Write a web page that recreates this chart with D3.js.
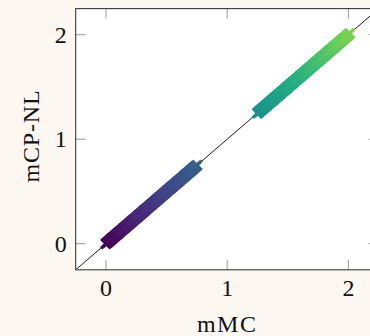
<!DOCTYPE html>
<html><head><meta charset="utf-8">
<script src="https://cdn.jsdelivr.net/npm/d3@7"></script>
<style>
html,body{margin:0;padding:0;background:#fdf7f1;}
svg{display:block;}
text{font-family:"Liberation Serif","Times New Roman",serif;fill:#111;}
</style></head>
<body>
<svg id="c" width="370" height="336"></svg>
<script>
// Data
const ticks = [0, 1, 2];
const tickLabels = ["0", "1", "2"];
const xLabel = "mMC";
const yLabel = "mCP-NL";
const domainMin = -0.25, domainMax = 2.25;
// cluster 1 (low values)
const mmcLow = [0.00,0.01,0.02,0.03,0.04,0.05,0.06,0.07,0.08,0.09,0.10,0.11,0.12,0.13,0.14,0.15,0.16,0.17,0.18,0.19,0.20,0.21,0.22,0.23,0.24,0.25,0.26,0.27,0.28,0.29,0.30,0.31,0.32,0.33,0.34,0.35,0.36,0.37,0.38,0.39,0.40,0.41,0.42,0.43,0.44,0.45,0.46,0.47,0.48,0.49,0.50,0.51,0.52,0.53,0.54,0.55,0.56,0.57,0.58,0.59,0.60,0.61,0.62,0.63,0.64,0.65,0.66,0.67,0.68,0.69,0.70,0.71,0.72,0.73,0.74,0.75];
const cpnlLow = [0.00,0.01,0.02,0.03,0.04,0.05,0.06,0.07,0.08,0.09,0.10,0.11,0.12,0.13,0.14,0.15,0.16,0.17,0.18,0.19,0.20,0.21,0.22,0.23,0.24,0.25,0.26,0.27,0.28,0.29,0.30,0.31,0.32,0.33,0.34,0.35,0.36,0.37,0.38,0.39,0.40,0.41,0.42,0.43,0.44,0.45,0.46,0.47,0.48,0.49,0.50,0.51,0.52,0.53,0.54,0.55,0.56,0.57,0.58,0.59,0.60,0.61,0.62,0.63,0.64,0.65,0.66,0.67,0.68,0.69,0.70,0.71,0.72,0.73,0.74,0.75];
// cluster 2 (high values)
const mmcHigh = [1.25,1.26,1.27,1.28,1.29,1.30,1.31,1.32,1.33,1.34,1.35,1.36,1.37,1.38,1.39,1.40,1.41,1.42,1.43,1.44,1.45,1.46,1.47,1.48,1.49,1.50,1.51,1.52,1.53,1.54,1.55,1.56,1.57,1.58,1.59,1.60,1.61,1.62,1.63,1.64,1.65,1.66,1.67,1.68,1.69,1.70,1.71,1.72,1.73,1.74,1.75,1.76,1.77,1.78,1.79,1.80,1.81,1.82,1.83,1.84,1.85,1.86,1.87,1.88,1.89,1.90,1.91,1.92,1.93,1.94,1.95,1.96,1.97,1.98,1.99,2.00,2.01];
const cpnlHigh = [1.25,1.26,1.27,1.28,1.29,1.30,1.31,1.32,1.33,1.34,1.35,1.36,1.37,1.38,1.39,1.40,1.41,1.42,1.43,1.44,1.45,1.46,1.47,1.48,1.49,1.50,1.51,1.52,1.53,1.54,1.55,1.56,1.57,1.58,1.59,1.60,1.61,1.62,1.63,1.64,1.65,1.66,1.67,1.68,1.69,1.70,1.71,1.72,1.73,1.74,1.75,1.76,1.77,1.78,1.79,1.80,1.81,1.82,1.83,1.84,1.85,1.86,1.87,1.88,1.89,1.90,1.91,1.92,1.93,1.94,1.95,1.96,1.97,1.98,1.99,2.00,2.01];
const colorMax = 2.5;

const W = 370, H = 336;
const m = {left: 75.7, top: 8.6};
const pw = 303, ph = 261.2;

const svg = d3.select("#c");
const x = d3.scaleLinear().domain([domainMin, domainMax]).range([m.left, m.left + pw]);
const y = d3.scaleLinear().domain([domainMin, domainMax]).range([m.top + ph, m.top]);

svg.append("defs").append("clipPath").attr("id","clip")
  .append("rect").attr("x", m.left).attr("y", m.top).attr("width", pw).attr("height", ph);

svg.append("rect").attr("x", m.left).attr("y", m.top).attr("width", pw).attr("height", ph)
  .attr("fill", "#fff");

const g = svg.append("g").attr("clip-path", "url(#clip)");
// diagonal
g.append("line")
  .attr("x1", x(domainMin)).attr("y1", y(domainMin))
  .attr("x2", x(domainMax)).attr("y2", y(domainMax))
  .attr("stroke", "#000").attr("stroke-width", 0.9);

const pts = mmcLow.map((v,i)=>({x:v,y:cpnlLow[i]}))
  .concat(mmcHigh.map((v,i)=>({x:v,y:cpnlHigh[i]})));
const r = 4.8;
const mk = g.selectAll("g.pt").data(pts).join("g").attr("class","pt")
  .attr("transform", d => `translate(${x(d.x)},${y(d.y)})`)
  .attr("stroke", d => d3.interpolateViridis(Math.min(d.x, 2) / colorMax))
  .attr("stroke-width", 3.2);
mk.append("line").attr("x1",-r).attr("y1",-r).attr("x2",r).attr("y2",r);
mk.append("line").attr("x1",-r).attr("y1",r).attr("x2",r).attr("y2",-r);

// ticks (inward)
const tl = 10;
const tg = svg.append("g").attr("stroke", "#9a9a9a").attr("stroke-width", 1);
ticks.forEach(t => {
  tg.append("line").attr("x1", x(t)).attr("x2", x(t)).attr("y1", m.top + ph).attr("y2", m.top + ph - tl);
  tg.append("line").attr("x1", x(t)).attr("x2", x(t)).attr("y1", m.top).attr("y2", m.top + tl);
  tg.append("line").attr("y1", y(t)).attr("y2", y(t)).attr("x1", m.left).attr("x2", m.left + tl);
  tg.append("line").attr("y1", y(t)).attr("y2", y(t)).attr("x1", m.left + pw).attr("x2", m.left + pw - tl);
});

// frame
svg.append("rect").attr("x", m.left).attr("y", m.top).attr("width", pw).attr("height", ph)
  .attr("fill", "none").attr("stroke", "#3a3a3a").attr("stroke-width", 1.1);

// tick labels
ticks.forEach((t,i) => {
  svg.append("text").attr("x", x(t)).attr("y", m.top + ph + 26)
    .attr("text-anchor","middle").attr("font-size", 24).text(tickLabels[i]);
  svg.append("text").attr("x", m.left - 9).attr("y", y(t) + 8)
    .attr("text-anchor","end").attr("font-size", 24).text(tickLabels[i]);
});

svg.append("text").attr("x", x(1)).attr("y", 332)
  .attr("text-anchor","middle").attr("font-size", 24).attr("letter-spacing", 1.5).text(xLabel);
svg.append("text").attr("transform", `translate(39,136) rotate(-90)`)
  .attr("text-anchor","middle").attr("font-size", 24).attr("letter-spacing", 0.8).text(yLabel);
</script>
</body></html>
